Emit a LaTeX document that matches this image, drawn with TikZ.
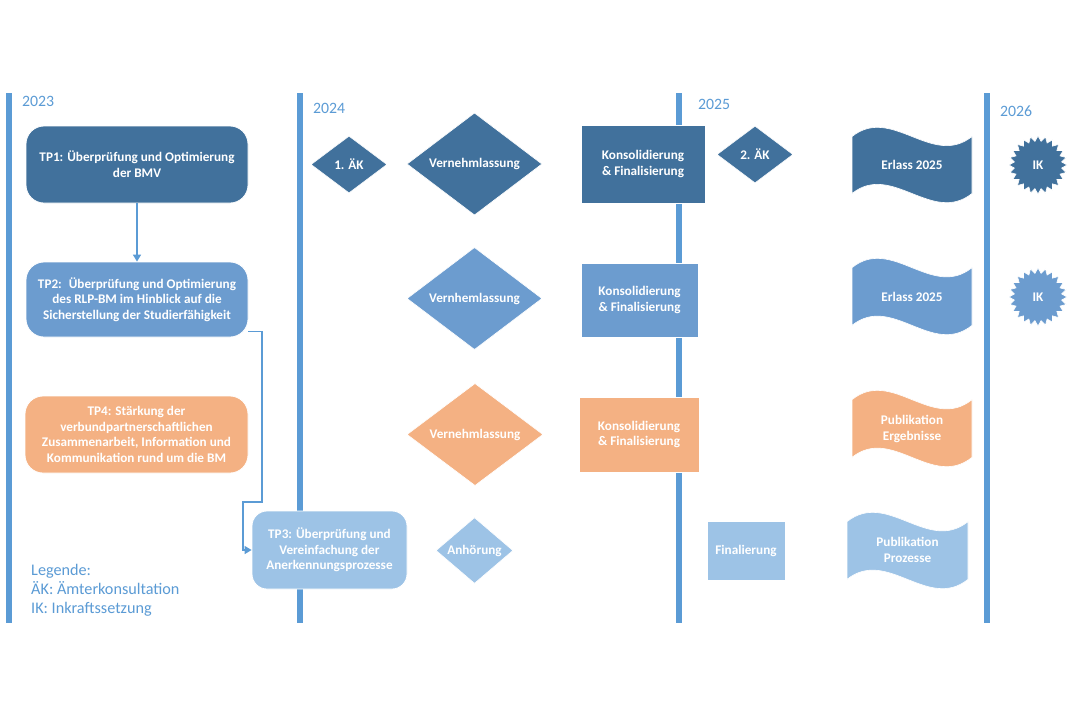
\documentclass[tikz,border=0pt]{standalone}
\usepackage{fontspec}
\setmainfont{Carlito}
\usetikzlibrary{shapes.geometric,arrows.meta}
\definecolor{dk}{HTML}{41719C}
\definecolor{md}{HTML}{6C9CCF}
\definecolor{lt}{HTML}{9DC3E6}
\definecolor{og}{HTML}{F4B183}
\definecolor{ln}{HTML}{5B9BD5}
\newcommand\wavefill[5]{%
  \fill[#5, draw=white, line width=0.6pt]
    ({#1},{#2+0.125*#4})
    .. controls ({#1+#3/3},{#2+0.125*#4-0.4167*#4}) and ({#1+2*#3/3},{#2+0.125*#4+0.4167*#4}) .. ({#1+#3},{#2+0.125*#4})
    -- ({#1+#3},{#2+0.875*#4})
    .. controls ({#1+2*#3/3},{#2+0.875*#4+0.4167*#4}) and ({#1+#3/3},{#2+0.875*#4-0.4167*#4}) .. ({#1},{#2+0.875*#4})
    -- cycle;}
\begin{document}
\begin{tikzpicture}[x=1pt,y=-1pt,
  txt/.style={text=white, align=center, font=\bfseries\fontsize{13.2pt}{15.7pt}\selectfont},
  tpbox/.style={txt, rounded corners=18pt, draw=white, line width=0.8pt, inner sep=2pt},
  diam/.style={txt, diamond, inner sep=0pt, draw=white, line width=0.6pt},
  rbox/.style={txt, rectangle, inner sep=2pt, draw=white, line width=0.8pt},
  seal/.style={txt, star, star points=24, star point ratio=1.22, inner sep=0pt, minimum size=58pt, draw=white, line width=0.6pt},
  plain/.style={txt, inner sep=0pt},
  year/.style={text=ln, anchor=west, inner sep=0pt, font=\fontsize{15.8pt}{18pt}\selectfont},
  bar/.style={fill=ln},
  conn/.style={draw=ln, line width=1.4pt},
  tip/.style={-{Triangle[width=8pt,length=7pt]}}
]
\useasboundingbox (0,0) rectangle (1074,716);
\fill[white] (0,0) rectangle (1074,716);

% timeline bars
\fill[bar] (6,93) rectangle (12,623);
\fill[bar] (297,93) rectangle (303,623);
\fill[bar] (676,93) rectangle (682,623);
\fill[bar] (984,93) rectangle (990,623);

% years
\node[year] (y23) at (22,101) {2023};
\node[year] (y24) at (313,108) {2024};
\node[year] (y25) at (698,104) {2025};
\node[year] (y26) at (1000,111) {2026};

% left column boxes
\node[tpbox, fill=dk, minimum width=222pt, minimum height=77pt] (tp1) at (137,164.5)
  {TP1: Überprüfung und Optimierung\\der BMV};
\node[tpbox, fill=md, minimum width=222pt, minimum height=75pt] (tp2) at (137,299.5)
  {TP2:~ Überprüfung und Optimierung\\des RLP-BM im Hinblick auf die\\Sicherstellung der Studierfähigkeit};
\node[tpbox, fill=og, minimum width=223pt, minimum height=77pt] (tp4) at (136.5,434.5)
  {TP4: Stärkung der\\verbundpartnerschaftlichen\\Zusammenarbeit, Information und\\Kommunikation rund um die BM};
\node[tpbox, rounded corners=15pt, fill=lt, minimum width=155pt, minimum height=78pt] (tp3) at (329.5,550)
  {TP3: Überprüfung und\\Vereinfachung der\\Anerkennungsprozesse};

% connectors
\draw[conn, tip] (tp1) -- (tp2);
\coordinate (k1) at (262,502);
\coordinate (k2) at (243,502);
\draw[conn, tip] ([yshift=6pt]tp2.south east) -| (k1) -- (k2) |- (tp3.west);

% row 1 (dark)
\node[diam, fill=dk, minimum width=76pt, minimum height=57pt] (ak1) at (349,164.5) {1. ÄK};
\node[diam, fill=dk, minimum width=135pt, minimum height=100pt] (vn1) at (474.5,164) {Vernehmlassung};
\node[rbox, fill=dk, minimum width=124pt, minimum height=78pt] (ko1) at (643,164) {Konsolidierung\\\& Finalisierung};
\node[diam, fill=dk, minimum width=76pt, minimum height=57pt] (ak2) at (755,154.5) {2. ÄK};
\wavefill{852}{127}{120}{76}{dk}
\node[plain] (er1) at (912,165) {Erlass 2025};
\node[seal, fill=dk] (ik1) at (1038,165) {IK};

% row 2 (medium)
\node[diam, fill=md, minimum width=135pt, minimum height=99pt] (vn2) at (474.5,298.5) {Vernhemlassung};
\node[rbox, fill=md, minimum width=117pt, minimum height=74pt] (ko2) at (639.5,300) {Konsolidierung\\\& Finalisierung};
\wavefill{852}{258}{120}{77}{md}
\node[plain] (er2) at (912,297) {Erlass 2025};
\node[seal, fill=md] (ik2) at (1038,297) {IK};

% row 3 (orange)
\node[diam, fill=og, minimum width=136pt, minimum height=101pt] (vn3) at (475,434.5) {Vernehmlassung};
\node[rbox, fill=og, minimum width=120pt, minimum height=75pt] (ko3) at (639,434.5) {Konsolidierung\\\& Finalisierung};
\wavefill{852}{390}{120}{77}{og}
\node[plain] (er3) at (912,429) {Publikation\\Ergebnisse};

% row 4 (light)
\node[diam, fill=lt, minimum width=77pt, minimum height=57pt] (an) at (474.5,550.5) {Anhörung};
\node[rbox, fill=lt, minimum width=78pt, minimum height=59pt] (fi) at (746,550.5) {Finalierung};
\wavefill{847}{512}{121}{77}{lt}
\node[plain] (er4) at (907.5,550) {Publikation\\Prozesse};

% legend
\node[anchor=west, align=left, text=ln, inner sep=0pt,
      font=\fontsize{16.2pt}{19pt}\selectfont] (leg) at (31,590)
  {Legende:\\ÄK: Ämterkonsultation\\IK: Inkraftssetzung};
\end{tikzpicture}
\end{document}
